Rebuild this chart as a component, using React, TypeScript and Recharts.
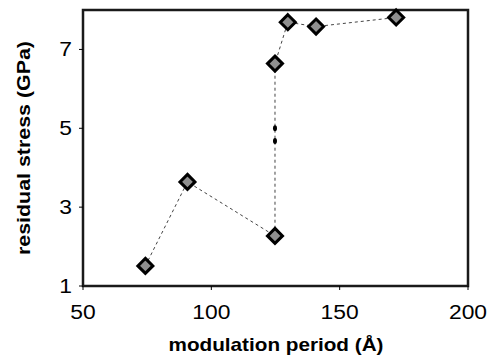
import { ScatterChart, Scatter, XAxis, YAxis, ReferenceArea } from 'recharts';

const periods = [74.3, 90.7, 124.8, 124.8, 129.8, 140.8, 172];
const stress = [1.51, 3.64, 2.27, 6.64, 7.69, 7.58, 7.81];
const dotPeriods = [124.8, 124.8];
const dotStress = [5.0, 4.68];
const xTicks = [50, 100, 150, 200];
const yTicks = [1, 3, 5, 7];

const points = periods.map((p, i) => ({ x: p, y: stress[i] }));
const dots = dotPeriods.map((p, i) => ({ x: p, y: dotStress[i] }));

const FONT = '"Liberation Sans", Arial, sans-serif';

// the source image is stretched a bit sideways, so text gets a fixed textLength
function XTick({ x, y, payload }: any) {
  const s = String(payload.value);
  return (
    <text x={x} y={y + 27} textAnchor="middle" fontSize={20} fontFamily={FONT} fill="#000"
      textLength={s.length * 12.7} lengthAdjust="spacingAndGlyphs">
      {s}
    </text>
  );
}

function YTick({ x, y, payload }: any) {
  const s = String(payload.value);
  return (
    <text x={x - 5} y={y + 7} textAnchor="end" fontSize={20} fontFamily={FONT} fill="#000"
      textLength={s.length * 12.7} lengthAdjust="spacingAndGlyphs">
      {s}
    </text>
  );
}

function Diamond({ cx, cy }: any) {
  const r = 7.5;
  return (
    <path
      d={`M${cx},${cy - r} L${cx + r},${cy} L${cx},${cy + r} L${cx - r},${cy} Z`}
      fill="#8f8f8f"
      stroke="#000"
      strokeWidth={3}
    />
  );
}

function Dot({ cx, cy }: any) {
  return <ellipse cx={cx} cy={cy} rx={2} ry={3} fill="#000" />;
}

export default function App() {
  return (
    <div style={{ position: 'absolute', left: 0, top: 0, background: '#fff' }}>
      <ScatterChart width={487} height={362} margin={{ top: 10, right: 19, bottom: 0, left: 0 }}>
        <XAxis
          type="number"
          dataKey="x"
          domain={[50, 200]}
          ticks={xTicks}
          axisLine={false}
          tickLine={{ stroke: '#000' }}
          tickSize={4}
          height={76}
          tick={<XTick />}
          label={{
            content: () => (
              <text x={276} y={351} textAnchor="middle" fontSize={19} fontWeight="bold"
                fontFamily={FONT} fill="#000" textLength={215} lengthAdjust="spacingAndGlyphs">
                modulation period (Å)
              </text>
            ),
          }}
        />
        <YAxis
          type="number"
          dataKey="y"
          domain={[1, 8]}
          ticks={yTicks}
          axisLine={false}
          tickLine={{ stroke: '#000' }}
          tickSize={4}
          width={83}
          tick={<YTick />}
          label={{
            content: () => (
              <text x={30} y={148} transform="rotate(-90, 30, 148)" textAnchor="middle" fontSize={19}
                fontWeight="bold" fontFamily={FONT} fill="#000" textLength={214} lengthAdjust="spacingAndGlyphs">
                residual stress (GPa)
              </text>
            ),
          }}
        />
        <ReferenceArea x1={50} x2={200} y1={1} y2={8} fill="none" stroke="#1a1a1a" strokeWidth={2.5} />
        <Scatter
          data={points}
          line={{ stroke: '#444', strokeWidth: 1, strokeDasharray: '3 3' }}
          lineType="joint"
          shape={<Diamond />}
          isAnimationActive={false}
        />
        <Scatter data={dots} shape={<Dot />} isAnimationActive={false} />
      </ScatterChart>
    </div>
  );
}
